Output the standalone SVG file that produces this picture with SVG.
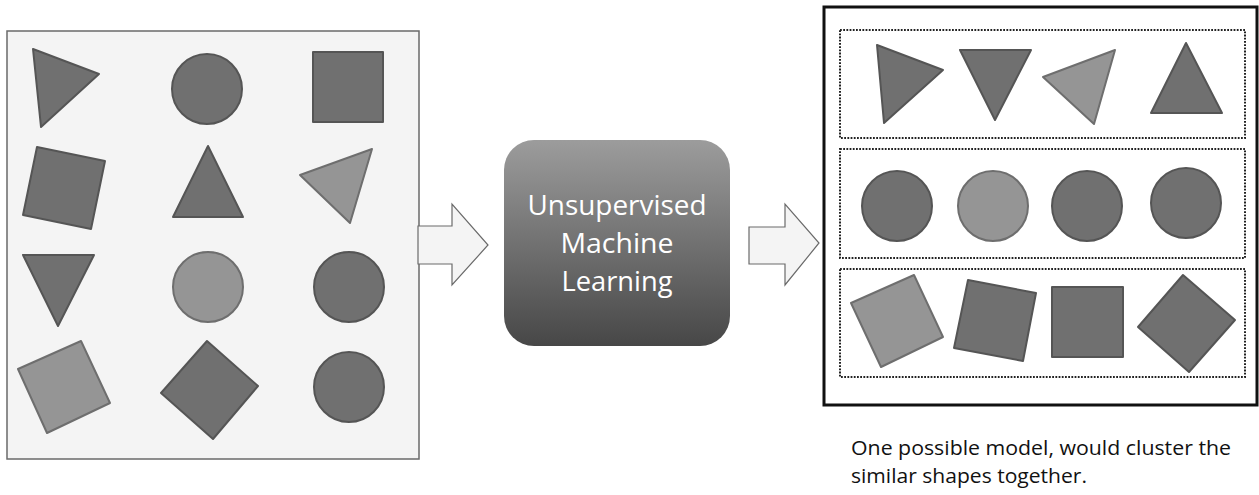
<svg xmlns="http://www.w3.org/2000/svg" width="1259" height="495" viewBox="0 0 1259 495">
  <style>
    .panel { fill: #f4f4f4; stroke: #6a6a6a; stroke-width: 1.5; }
    .dark { fill: #707070; stroke: #555555; stroke-width: 2; stroke-linejoin: round; }
    .light { fill: #959595; stroke: #6e6e6e; stroke-width: 2; stroke-linejoin: round; }
    .cluster { fill: none; stroke: #222222; stroke-width: 2; stroke-dasharray: 1.8 1.4; }
    .arrow { fill: #f4f4f4; stroke: #6a6a6a; stroke-width: 1.2; stroke-linejoin: miter; }
    .model-text { fill: #ffffff; font-family: "Open Sans", "Noto Sans", sans-serif; font-size: 28px; text-anchor: middle; }
    .caption { fill: #111111; font-family: "Open Sans", "Noto Sans", sans-serif; font-size: 20px; }
  </style>
  <defs>
    <linearGradient id="boxGrad" x1="0" y1="0" x2="0" y2="1">
      <stop offset="0" stop-color="#9c9c9c"/>
      <stop offset="1" stop-color="#474747"/>
    </linearGradient>
  </defs>
  <rect width="1259" height="495" fill="#ffffff"/>

  <!-- unsorted input shapes -->
  <g id="input-set">
    <rect class="panel" x="7" y="31" width="412" height="428"/>
    <polygon class="dark" points="33,49 99,74 41,127"/>
    <circle class="dark" cx="207" cy="89" r="35"/>
    <rect class="dark" x="313" y="52" width="70" height="70"/>
    <polygon class="dark" points="37,147 105,161 91,229 23,215"/>
    <polygon class="dark" points="208,146 243,217 173,217"/>
    <polygon class="light" points="372,149 300,175 350,223"/>
    <polygon class="dark" points="23,255 94,255 58,326"/>
    <circle class="light" cx="208" cy="287" r="35"/>
    <circle class="dark" cx="349" cy="287" r="35"/>
    <polygon class="light" points="18,369 81,341 110,403 47,433"/>
    <polygon class="dark" points="207,341 258,386 213,439 161,393"/>
    <circle class="dark" cx="349" cy="387" r="35"/>
  </g>

  <!-- learning step -->
  <g id="model">
    <rect x="504" y="140" width="226" height="206" rx="30" ry="30" fill="url(#boxGrad)"/>
    <text class="model-text" x="617" y="215" textLength="179" lengthAdjust="spacingAndGlyphs">Unsupervised</text>
    <text class="model-text" x="617" y="253" textLength="113" lengthAdjust="spacingAndGlyphs">Machine</text>
    <text class="model-text" x="617" y="291" textLength="111" lengthAdjust="spacingAndGlyphs">Learning</text>
  </g>

  <!-- block arrows -->
  <g id="connectors">
    <polygon class="arrow" points="418,226 452,226 452,204 488,245 452,285 452,264 418,264"/>
    <polygon class="arrow" points="749,227 785,227 785,204 819,243 785,285 785,264 749,264"/>
  </g>

  <!-- clustered output -->
  <g id="output-set">
    <rect x="824" y="7" width="433" height="398" fill="#ffffff" stroke="#111111" stroke-width="3"/>
    <rect class="cluster" x="840" y="30" width="405" height="108"/>
    <rect class="cluster" x="840" y="149" width="405" height="109"/>
    <rect class="cluster" x="840" y="269" width="405" height="108"/>
  </g>

  <g id="cluster-triangles">
    <polygon class="dark" points="877,45 943,70 884,123"/>
    <polygon class="dark" points="960,50 1031,50 995,120"/>
    <polygon class="light" points="1115,50 1043,77 1094,124"/>
    <polygon class="dark" points="1186,43 1222,113 1151,113"/>
  </g>

  <g id="cluster-circles">
    <circle class="dark" cx="897" cy="206" r="35"/>
    <circle class="light" cx="993" cy="206" r="35"/>
    <circle class="dark" cx="1087" cy="206" r="35"/>
    <circle class="dark" cx="1186" cy="203" r="35"/>
  </g>

  <g id="cluster-squares">
    <polygon class="light" points="851,303 914,275 943,337 881,367"/>
    <polygon class="dark" points="968,280 1036,293 1023,361 954,348"/>
    <rect class="dark" x="1052" y="287" width="71" height="70"/>
    <polygon class="dark" points="1183,275 1235,320 1189,372 1138,327"/>
  </g>

  <g id="caption">
    <text class="caption" x="851" y="455" textLength="380" lengthAdjust="spacingAndGlyphs">One possible model, would cluster the</text>
    <text class="caption" x="851" y="483" textLength="236" lengthAdjust="spacingAndGlyphs">similar shapes together.</text>
  </g>
</svg>
